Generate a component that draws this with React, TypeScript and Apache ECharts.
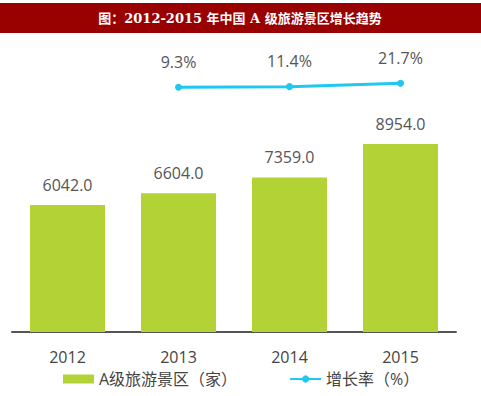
import React, { useEffect, useRef } from "react";
import * as echarts from "echarts";

const categories = ["2012", "2013", "2014", "2015"];
const scenicCounts = [6042.0, 6604.0, 7359.0, 8954.0];
const growthRates: (number | string)[] = ["-", 9.3, 11.4, 21.7];
const titleText = "图：2012-2015 年中国 A 级旅游景区增长趋势";
const barName = "A级旅游景区（家）";
const lineName = "增长率（%）";

export default function App() {
  const ref = useRef<HTMLDivElement>(null);
  useEffect(() => {
    document.body.style.margin = "0";
    const chart = echarts.init(ref.current!, null, { renderer: "svg" });
    const font = "'Open Sans', 'Noto Sans CJK SC', sans-serif";
    chart.setOption({
      animation: false,
      backgroundColor: "#ffffff",
      textStyle: { fontFamily: font },
      graphic: [
        { type: "rect", shape: { x: 0, y: 3, width: 481, height: 30 }, style: { fill: "#990000" } },
        {
          type: "text",
          x: 240,
          y: 18,
          style: {
            text: titleText,
            fill: "#ffffff",
            font: "bold 13px 'DejaVu Serif', 'Noto Sans CJK SC', serif",
            textAlign: "center",
            textVerticalAlign: "middle",
          },
        },
      ],
      legend: {
        left: 63,
        top: 371,
        padding: 0,
        itemWidth: 31,
        itemHeight: 9,
        itemGap: 52,
        textStyle: { fontSize: 16, color: "#444", fontFamily: font },
        data: [
          { name: barName, icon: "rect" },
          { name: lineName },
        ],
      },
      grid: [
        { left: 12, right: 25, top: 122, bottom: 64 },
        { left: 12, right: 25, top: 50, height: 50 },
      ],
      xAxis: [
        {
          type: "category",
          gridIndex: 0,
          data: categories,
          axisLine: { lineStyle: { color: "#555", width: 2 } },
          axisTick: { show: false },
          axisLabel: { fontSize: 16, color: "#444", margin: 17, fontFamily: font },
        },
        {
          type: "category",
          gridIndex: 1,
          data: categories,
          show: false,
        },
      ],
      yAxis: [
        { type: "value", gridIndex: 0, min: 0, max: 10000, show: false, splitLine: { show: false } },
        { type: "value", gridIndex: 1, min: -30, max: 125, show: false, splitLine: { show: false } },
      ],
      series: [
        {
          name: barName,
          type: "bar",
          xAxisIndex: 0,
          yAxisIndex: 0,
          data: scenicCounts,
          barWidth: 75,
          itemStyle: { color: "#b2d235" },
          label: {
            show: true,
            position: "top",
            distance: 12,
            fontSize: 16,
            color: "#555",
            fontFamily: font,
            formatter: (p: any) => Number(p.value).toFixed(1),
          },
        },
        {
          name: lineName,
          type: "line",
          xAxisIndex: 1,
          yAxisIndex: 1,
          data: growthRates,
          symbol: "circle",
          symbolSize: 7,
          lineStyle: { color: "#1ec8f0", width: 3 },
          itemStyle: { color: "#1ec8f0" },
          label: {
            show: true,
            position: "top",
            distance: 14,
            fontSize: 16,
            color: "#555",
            fontFamily: font,
            formatter: (p: any) => Number(p.value).toFixed(1) + "%",
          },
        },
      ],
    });
    return () => chart.dispose();
  }, []);
  return <div ref={ref} style={{ width: 481, height: 396 }} />;
}
